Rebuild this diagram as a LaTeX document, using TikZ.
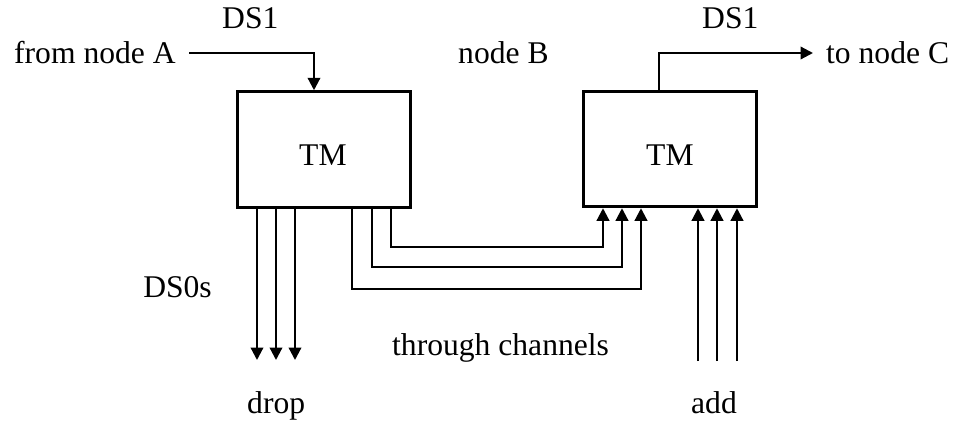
\documentclass[tikz,border=0pt]{standalone}
\usepackage{fontspec}
\setmainfont{Liberation Serif}
\usetikzlibrary{arrows.meta}
\begin{document}
\begin{tikzpicture}[x=1pt,y=-1pt,
  lbl/.style={inner sep=0pt, anchor=base west, font=\fontsize{31.6}{38}\selectfont},
  tmbox/.style={draw, line width=3pt, minimum width=173pt, minimum height=115.5pt, inner sep=0pt},
  conn/.style={line width=2.2pt},
  arr/.style={conn, -{Triangle[length=12.5pt,width=12.5pt]}}]
\useasboundingbox (0,0) rectangle (956,421);
% boxes
\node[tmbox] (L) at (324,149.5) {};
\node[tmbox] (R) at (669.5,149) {};
\node[lbl] (tmL) at (299,165) {TM};
\node[lbl] (tmR) at (646,165) {TM};
% labels
\node[lbl] (fromA) at (14,63) {from node A};
\node[lbl] (ds1L) at (222,28) {DS1};
\node[lbl] (nodeB) at (458,63) {node B};
\node[lbl] (ds1R) at (702,28) {DS1};
\node[lbl] (toC) at (826,63) {to node C};
\node[lbl, anchor=base east] (ds0) at (212,297) {DS0s};
\node[lbl] (thr) at (392,355) {through channels};
\node[lbl] (drop) at (247,413) {drop};
\node[lbl] (add) at (691,413) {add};
% free ends
\coordinate (a1) at (189,53);
\coordinate (c1) at (813,53);
\coordinate (d1) at (257,360);
\coordinate (d2) at (276,360);
\coordinate (d3) at (295,360);
\coordinate (e1) at (698,361);
\coordinate (e2) at (717,361);
\coordinate (e3) at (737,361);
% DS1 in / out
\draw[arr] (a1) -| ([xshift=-10pt]L.north);
\draw[arr] ([xshift=-10.5pt]R.north) |- (c1);
% drop
\draw[arr] (L.south -| d1) -- (d1);
\draw[arr] (L.south -| d2) -- (d2);
\draw[arr] (L.south -| d3) -- (d3);
% add
\draw[arr] (e1) -- (R.south -| e1);
\draw[arr] (e2) -- (R.south -| e2);
\draw[arr] (e3) -- (R.south -| e3);
% through channels
\draw[arr] ([xshift=67pt]L.south) -- ++(0,38) -| ([xshift=-66.5pt]R.south);
\draw[arr] ([xshift=48pt]L.south) -- ++(0,58) -| ([xshift=-47.5pt]R.south);
\draw[arr] ([xshift=28pt]L.south) -- ++(0,80) -| ([xshift=-28.5pt]R.south);
\end{tikzpicture}
\end{document}
